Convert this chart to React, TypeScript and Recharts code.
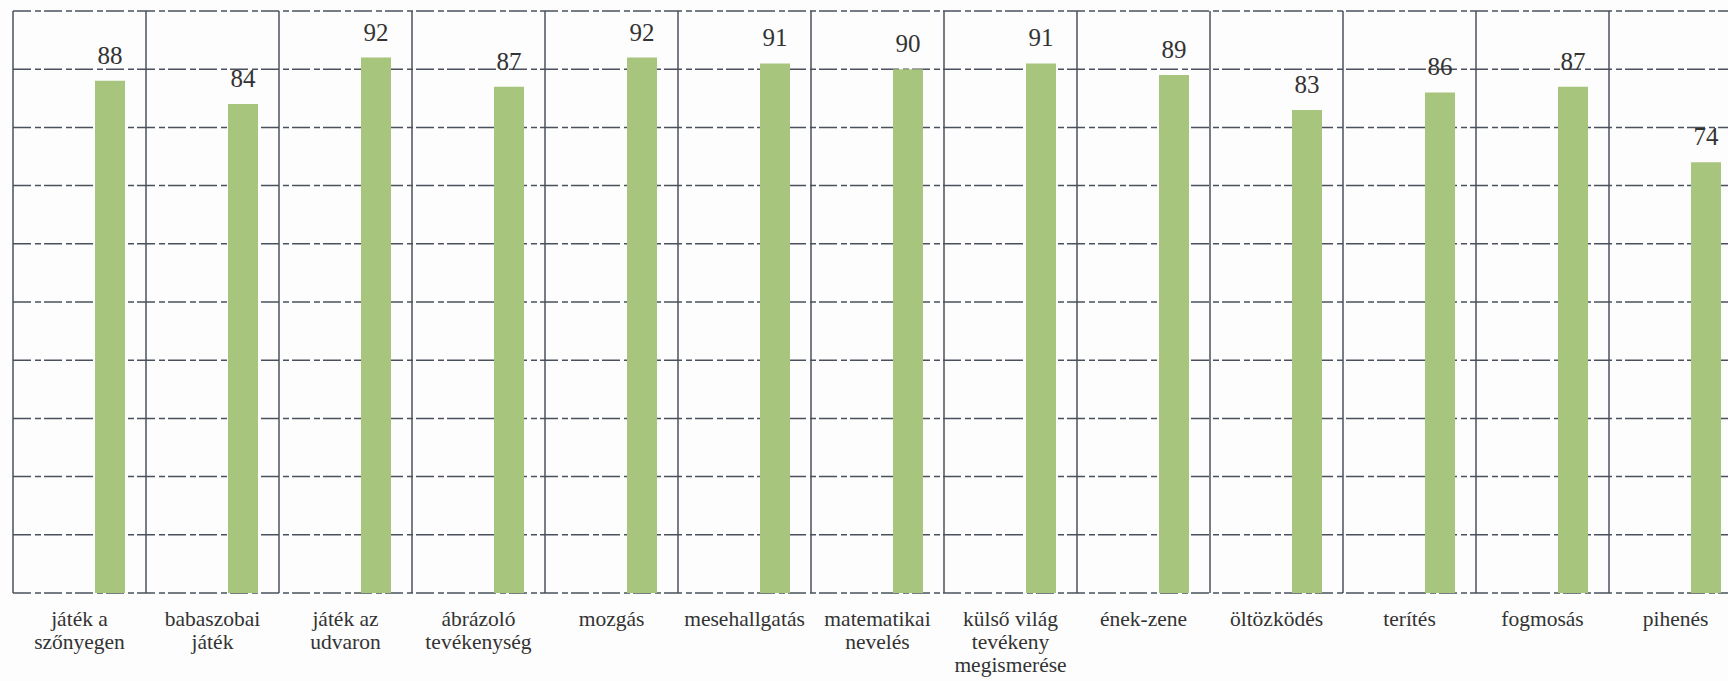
import React from "react";
import {
  BarChart,
  Bar,
  XAxis,
  YAxis,
  CartesianGrid,
  LabelList,
} from "recharts";

// -------------------------------
// Data
// -------------------------------
const categories: string[] = [
  "játék a\nszőnyegen",
  "babaszobai\njáték",
  "játék az\nudvaron",
  "ábrázoló\ntevékenység",
  "mozgás",
  "mesehallgatás",
  "matematikai\nnevelés",
  "külső világ\ntevékeny\nmegismerése",
  "ének-zene",
  "öltözködés",
  "terítés",
  "fogmosás",
  "pihenés",
];

const values: number[] = [88, 84, 92, 87, 92, 91, 90, 91, 89, 83, 86, 87, 74];

const yTicks: number[] = [0, 10, 20, 30, 40, 50, 60, 70, 80, 90, 100];

const data = categories.map((name, i) => ({ name, value: values[i] }));

const FONT = "Liberation Serif, DejaVu Serif, serif";
const GRID = "#4a515c";
const BAR = "#a7c57d";

// multi-line category label under each band
function CategoryTick(props: any) {
  const { x, y, payload } = props;
  const lines = String(payload.value).split("\n");
  return (
    <text
      x={x}
      y={y + 33}
      textAnchor="middle"
      style={{ fontFamily: FONT, fontSize: 21.5 }}
      fill="#333333"
    >
      {lines.map((line, i) => (
        <tspan key={i} x={x} dy={i === 0 ? 0 : 23}>
          {line}
        </tspan>
      ))}
    </text>
  );
}

export default function App() {
  return (
    <div
      style={{
        position: "fixed",
        left: 0,
        top: 0,
        width: 1728,
        height: 681,
        overflow: "hidden",
        background: "#fdfdfd",
        fontFamily: FONT,
      }}
    >
      <BarChart
        width={1760}
        height={681}
        data={data}
        barGap={0}
        margin={{ top: 11, right: 18, left: 13, bottom: 0 }}
        style={{ fontFamily: FONT }}
      >
        {/* dashed horizontal grid */}
        <CartesianGrid
          vertical={false}
          stroke={GRID}
          strokeWidth={1.5}
          strokeDasharray="18 4 6 3"
        />
        {/* solid vertical lines at category boundaries */}
        <CartesianGrid
          horizontal={false}
          stroke={GRID}
          strokeWidth={1.5}
          verticalCoordinatesGenerator={({ offset }: any) =>
            Array.from(
              { length: categories.length + 1 },
              (_, i) => offset.left + (i * offset.width) / categories.length
            )
          }
        />
        <XAxis
          dataKey="name"
          interval={0}
          height={88}
          axisLine={false}
          tickLine={false}
          tickSize={0}
          tickMargin={0}
          tick={<CategoryTick />}
        />
        <YAxis hide domain={[0, 100]} ticks={yTicks} />
        {/* empty spacer series pushes the bar right of centre, as in the scan */}
        <Bar
          dataKey="spacer"
          barSize={60}
          fill="none"
          isAnimationActive={false}
        />
        <Bar
          dataKey="value"
          barSize={30}
          fill={BAR}
          isAnimationActive={false}
        >
          <LabelList
            dataKey="value"
            position="top"
            offset={17}
            style={{ fontFamily: FONT, fontSize: 25 }}
            fill="#333333"
          />
        </Bar>
      </BarChart>
    </div>
  );
}
